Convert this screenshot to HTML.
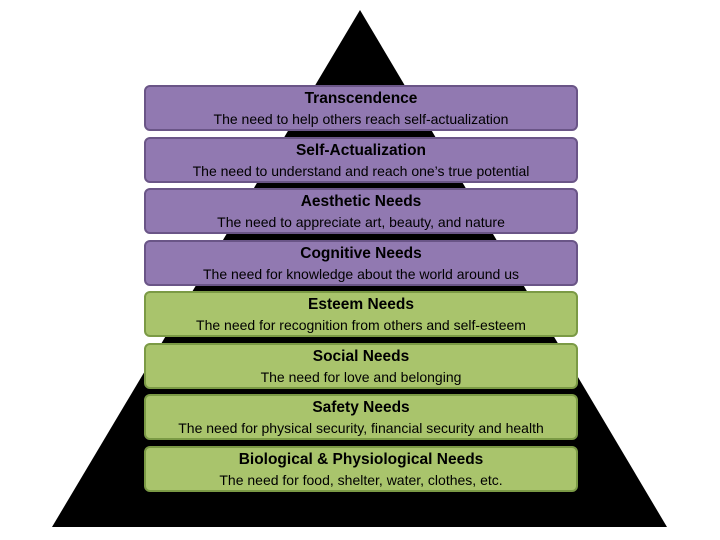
<!DOCTYPE html>
<html><head><style>
body{margin:0;width:720px;height:540px;background:#fff;position:relative;overflow:hidden;font-family:"Liberation Sans",sans-serif}
.b{position:absolute;left:144px;width:430px;height:42px;border-radius:6px;text-align:center;color:#000}
.p{background:#9179b1;border:2px solid #6a5587}
.g{background:#a9c46c;border:2px solid #7b9a45}
.t{font-weight:bold;font-size:15.5px;margin-top:3px;line-height:18px}
.s{font-size:14px;line-height:18px;margin-top:2px}
</style></head><body>
<svg width="720" height="540" style="position:absolute;left:0;top:0"><polygon points="360,10 667,527 52,527" fill="#000"/></svg>
<div class="b p" style="top:85px"><div class="t">Transcendence</div><div class="s">The need to help others reach self-actualization</div></div>
<div class="b p" style="top:137px"><div class="t">Self-Actualization</div><div class="s">The need to understand and reach one’s true potential</div></div>
<div class="b p" style="top:188px"><div class="t">Aesthetic Needs</div><div class="s">The need to appreciate art, beauty, and nature</div></div>
<div class="b p" style="top:240px"><div class="t">Cognitive Needs</div><div class="s">The need for knowledge about the world around us</div></div>
<div class="b g" style="top:291px"><div class="t">Esteem Needs</div><div class="s">The need for recognition from others and self-esteem</div></div>
<div class="b g" style="top:343px"><div class="t">Social Needs</div><div class="s">The need for love and belonging</div></div>
<div class="b g" style="top:394px"><div class="t">Safety Needs</div><div class="s">The need for physical security, financial security and health</div></div>
<div class="b g" style="top:446px"><div class="t">Biological &amp; Physiological Needs</div><div class="s">The need for food, shelter, water, clothes, etc.</div></div>
</body></html>
